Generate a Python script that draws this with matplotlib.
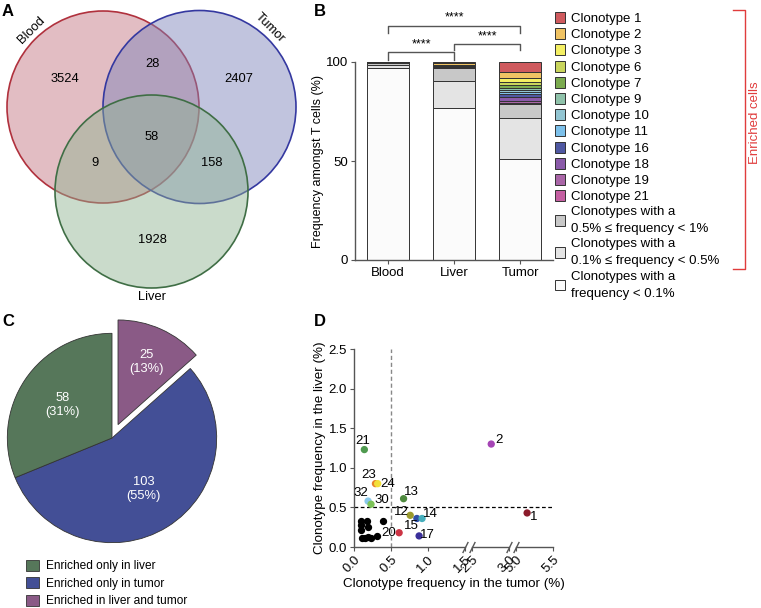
import numpy as np
import matplotlib
matplotlib.use("Agg")
import matplotlib.pyplot as plt
from matplotlib.patches import Circle, Patch

plt.rcParams['font.family'] = ['Liberation Sans', 'DejaVu Sans']
plt.rcParams['font.size'] = 9
plt.rcParams['axes.linewidth'] = 1.0

# ---- data ----
venn_counts = [3524, 28, 2407, 58, 9, 158, 1928]   # B, B&T, T, all, B&L, T&L, L
venn_sets = ["Blood", "Tumor", "Liver"]

tissues = ["Blood", "Liver", "Tumor"]
seg_labels = ["Clonotype 1", "Clonotype 2", "Clonotype 3", "Clonotype 6", "Clonotype 7",
              "Clonotype 9", "Clonotype 10", "Clonotype 11", "Clonotype 16", "Clonotype 18",
              "Clonotype 19", "Clonotype 21",
              "Clonotypes with a\n0.5% \u2264 frequency < 1%",
              "Clonotypes with a\n0.1% \u2264 frequency < 0.5%",
              "Clonotypes with a\nfrequency < 0.1%"]
blood_vals = [0.05, 0.1, 0.05, 0.03, 0.03, 0.03, 0.03, 0.03, 0.03, 0.03, 0.03, 0.06, 1.2, 1.5, 96.8]
liver_vals = [0.3, 1.0, 0.1, 0.1, 0.1, 0.1, 0.1, 0.1, 0.1, 0.1, 0.3, 0.7, 6.3, 13.5, 77.0]
tumor_vals = [5.2, 2.9, 2.2, 1.5, 1.3, 1.1, 1.0, 1.0, 1.5, 1.8, 1.4, 0.5, 7.0, 20.6, 51.0]
seg_colors = ["#cf5a5e", "#f0c363", "#f4ef63", "#c9d55c", "#7bab4f", "#8fc2aa", "#92c5d2",
              "#7cc0ea", "#4f58a2", "#8a5aa9", "#a965a7", "#c55fa2", "#c8c8c8", "#e4e4e4", "#fbfbfb"]

pie_labels = ["Enriched only in liver", "Enriched only in tumor", "Enriched in liver and tumor"]
pie_counts = [58, 103, 25]
pie_colors = ["#56775a", "#434f96", "#8a5a86"]

pt_labels = ["21", "2", "23", "24", "13", "32", "30", "12", "15", "14", "20", "17", "1"]
pt_tumor = [0.14, 2.76, 0.29, 0.32, 0.67, 0.19, 0.23, 0.76, 0.85, 0.92, 0.61, 0.88, 5.15]
pt_liver = [1.23, 1.30, 0.80, 0.80, 0.61, 0.58, 0.54, 0.40, 0.36, 0.36, 0.18, 0.14, 0.43]
pt_colors = ["#4f9a4f", "#a545b5", "#e8822a", "#f2e03a", "#4f8a3f", "#88c8ea", "#7cc257",
             "#9a9a2e", "#2f4fa8", "#45aebc", "#cc3344", "#3a2f9a", "#8b1a2a"]
bg_tumor = [0.10, 0.17, 0.39, 0.09, 0.19, 0.09, 0.11, 0.15, 0.19, 0.23, 0.31]
bg_liver = [0.33, 0.33, 0.33, 0.28, 0.25, 0.22, 0.11, 0.11, 0.13, 0.11, 0.14]

W, H = 761, 608
fig = plt.figure(figsize=(W / 100, H / 100), dpi=100)


def box(x0, y0, x1, y1):
    return [x0 / W, 1 - y1 / H, (x1 - x0) / W, (y1 - y0) / H]


# ---- A: Venn ----
ax = fig.add_axes(box(0, 0, 310, 300))
ax.set_xlim(0, 310)
ax.set_ylim(300, 0)
ax.axis("off")
circ = [((103, 107), 96), ((199.5, 107), 96.5), ((151.5, 191.5), 96.5)]
fills = ["#c27480", "#7c82ba", "#8fb392"]
edges = ["#b0313d", "#3438a0", "#3f6e45"]
for (c, r), fc, ec in zip(circ, fills, edges):
    ax.add_patch(Circle(c, r, facecolor=fc, alpha=0.47, edgecolor="none"))
    ax.add_patch(Circle(c, r, facecolor="none", edgecolor=ec, lw=1.2))
num_pos = [(65, 79), (152, 64), (239, 79), (152, 137), (95, 163), (212, 163), (152, 240)]
for n, (x, y) in zip(venn_counts, num_pos):
    ax.text(x, y, str(n), ha="center", va="center", fontsize=9.3)
ax.text(31, 30, venn_sets[0], rotation=45, ha="center", va="center", fontsize=9.3)
ax.text(270, 28, venn_sets[1], rotation=-45, ha="center", va="center", fontsize=9.3)
ax.text(152, 297, venn_sets[2], ha="center", va="center", fontsize=9.3)

# ---- B: stacked bars ----
ax = fig.add_axes(box(355, 62, 553, 260))
vals = np.array([blood_vals, liver_vals, tumor_vals])
x = np.arange(len(tissues))
bottom = np.zeros(len(tissues))
handles = {}
for i in reversed(range(len(seg_labels))):
    b = ax.bar(x, vals[:, i], bottom=bottom, width=0.65, color=seg_colors[i],
               edgecolor="#333333", linewidth=0.7)
    handles[i] = b
    bottom += vals[:, i]
ax.set_xlim(-0.5, 2.5)
ax.set_ylim(0, 100)
ax.set_yticks([0, 50, 100])
ax.set_xticks(x)
ax.set_xticklabels(tissues, fontsize=9.5)
ax.tick_params(labelsize=9.5, direction="out", length=3, color="#555555", pad=2)
ax.set_ylabel("Frequency amongst T cells (%)", fontsize=9, labelpad=1)
for s in ["top", "right"]:
    ax.spines[s].set_visible(False)
for s in ["left", "bottom"]:
    ax.spines[s].set_color("#555555")
for (a, b, ytop, ydrop, ytxt) in [(0, 1, 104.9, 101, 106.0), (1, 2, 109, 106, 110.1), (0, 2, 118.3, 114.6, 119.4)]:
    ax.plot([a, a, b, b], [ydrop, ytop, ytop, ydrop], color="#555555", lw=1, clip_on=False)
    ax.text((a + b) / 2, ytxt, "****", ha="center", va="bottom", fontsize=9, clip_on=False)
leg = fig.legend([handles[i] for i in range(len(seg_labels))], seg_labels,
                 loc="upper left", bbox_to_anchor=(555 / W, 1 - 12 / H), frameon=False,
                 fontsize=9.5, handlelength=0.75, handleheight=0.9, handletextpad=0.5,
                 labelspacing=0.24, borderpad=0, borderaxespad=0)
for t in leg.get_texts():
    t.set_linespacing(1.55)
fig.add_artist(plt.Line2D([733 / W, 745 / W, 745 / W, 733 / W],
                          [1 - 10 / H, 1 - 10 / H, 1 - 269 / H, 1 - 269 / H],
                          color="#e03c3c", lw=1))
fig.text(755 / W, 1 - 123 / H, "Enriched cells", rotation=90, color="#e03c3c",
         ha="center", va="center", fontsize=9.5)

# ---- C: pie ----
ax = fig.add_axes(box(0, 326, 224, 550))
order = [2, 1, 0]
wedges, texts = ax.pie([pie_counts[i] for i in order], colors=[pie_colors[i] for i in order],
                       startangle=90, counterclock=False, explode=[0.14, 0, 0],
                       wedgeprops=dict(edgecolor="#333333", linewidth=0.6))
tot = sum(pie_counts)
for w, i in zip(wedges, order):
    ang = np.deg2rad((w.theta1 + w.theta2) / 2)
    cx, cy = w.center
    rr = 0.57 if i != 2 else 0.66
    ax.text(cx + rr * np.cos(ang), cy + rr * np.sin(ang),
            f"{pie_counts[i]}\n({round(100 * pie_counts[i] / tot)}%)",
            ha="center", va="center", color="white", fontsize=9.3)
ax.set_xlim(-1.07, 1.07)
ax.set_ylim(-1.07, 1.07)
ax.set_aspect("equal")
fig.legend([Patch(facecolor=c, edgecolor="#333333", lw=0.6) for c in pie_colors], pie_labels,
           loc="upper left", bbox_to_anchor=(26 / W, 1 - 560 / H), frameon=False,
           fontsize=8.6, handlelength=1.1, handleheight=1.0, handletextpad=0.6,
           labelspacing=0.42, borderpad=0, borderaxespad=0)

# ---- D: scatter with broken x axis ----
brk_x = [-10, 0, 1.5, 2.5, 3.0, 5.0, 5.5, 20]
brk_t = [-10, 0, 1.5, 1.595, 2.095, 2.19, 2.69, 17.19]
ax = fig.add_axes(box(354, 349, 553, 547))
ax.set_xscale("function", functions=(lambda v: np.interp(v, brk_x, brk_t),
                                     lambda v: np.interp(v, brk_t, brk_x)))
ax.set_xlim(0, 5.5)
ax.set_ylim(0, 2.5)
ax.axvline(0.5, color="#888888", ls=(0, (3, 2)), lw=1)
ax.axhline(0.5, color="black", ls=(0, (3, 2)), lw=0.9)
ax.scatter(bg_tumor, bg_liver, s=18, color="black", zorder=3)
ax.scatter(pt_tumor, pt_liver, s=18, c=pt_colors, zorder=3)
offs = [(-1, 6.5), (5.5, 3), (-5, 6), (7, 0), (5.5, 4.5), (-5, 5.5), (7.5, 3), (-6.5, 2.5),
        (-4, -5.5), (6, 3.5), (-7.5, 0), (6, 0.5), (4.5, -3)]
for lab, xv, yv, (dx, dy) in zip(pt_labels, pt_tumor, pt_liver, offs):
    ax.annotate(lab, (xv, yv), xytext=(dx, dy), textcoords="offset points",
                ha="center", va="center", fontsize=9.5)
ax.set_xticks([0, 0.5, 1.0, 1.5, 2.5, 3.0, 5.0, 5.5])
ax.set_xticklabels(["0.0", "0.5", "1.0", "1.5", "2.5", "3.0", "5.0", "5.5"],
                   rotation=45, ha="right", va="top", rotation_mode="anchor")
ax.set_yticks([0, 0.5, 1.0, 1.5, 2.0, 2.5])
ax.tick_params(labelsize=9.5, direction="out", length=3, color="#555555", pad=2)
for s in ["top", "right", "bottom"]:
    ax.spines[s].set_visible(False)
ax.spines["left"].set_color("#555555")
for a, b in [(0, 1.5), (2.5, 3.0), (5.0, 5.5)]:
    ax.plot([a, b], [0, 0], color="#555555", lw=1, clip_on=False)
ax.plot([1.5, 2.5, 3.0, 5.0], [0, 0, 0, 0], ls="none", marker=[(-0.5, -1), (0.5, 1)],
        markersize=8, color="#555555", mew=1, clip_on=False)
ax.set_xlabel("Clonotype frequency in the tumor (%)", fontsize=9.6, labelpad=2)
ax.set_ylabel("Clonotype frequency in the liver (%)", fontsize=9.6, labelpad=2)

# panel letters
for lab, (px, py) in zip("ABCD", [(8, 12), (320, 12), (8, 322), (320, 322)]):
    fig.text(px / W, 1 - py / H, lab, fontsize=12, fontweight="bold", ha="center", va="center")

fig.savefig("out.png", dpi=100)
